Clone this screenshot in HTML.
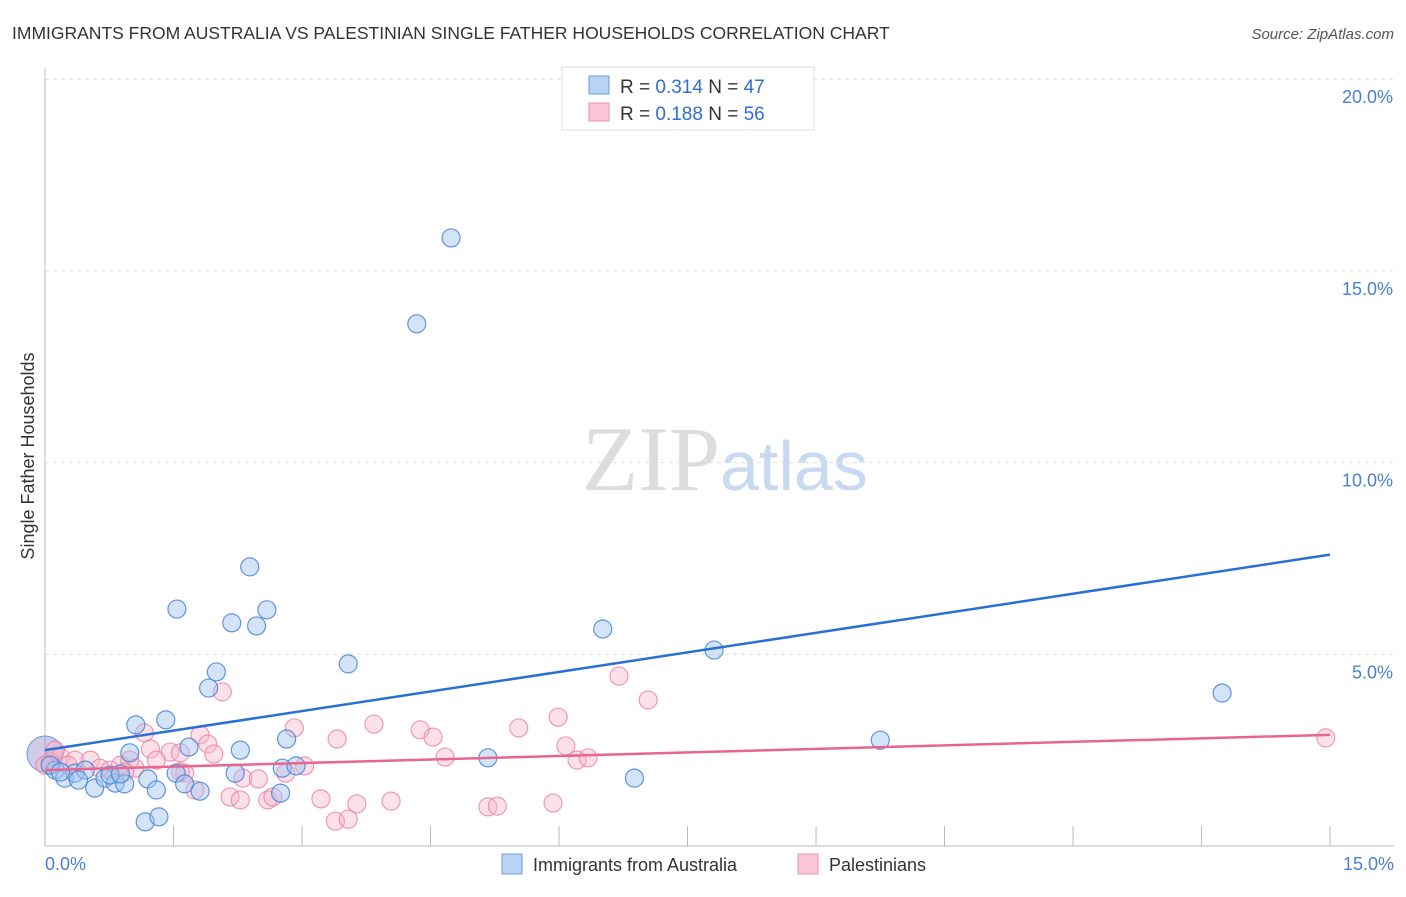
<!DOCTYPE html>
<html><head><meta charset="utf-8"><style>
body{margin:0;background:#fff;font-family:"Liberation Sans",sans-serif}
</style></head><body>
<svg width="1406" height="892" xmlns="http://www.w3.org/2000/svg" font-family="Liberation Sans, sans-serif">
<text x="12" y="39" font-size="17.5" fill="#333">IMMIGRANTS FROM AUSTRALIA VS PALESTINIAN SINGLE FATHER HOUSEHOLDS CORRELATION CHART</text>
<text x="1394" y="39" font-size="15" fill="#555" font-style="italic" text-anchor="end">Source: ZipAtlas.com</text>
<text x="720" y="490" font-size="92" fill="#ddd" font-family="Liberation Serif, serif" text-anchor="end">ZIP</text>
<text x="720" y="490" font-size="70" fill="#c8d9f0">atlas</text>
<g id="grid"></g><g id="axes"></g><g id="pts"></g><g id="lines"></g>
<text x="34" y="456" font-size="18" fill="#333" text-anchor="middle" transform="rotate(-90 34 456)">Single Father Households</text>
<text x="45" y="870" font-size="18" fill="#4a7fd4">0.0%</text>
<text x="1394" y="870" font-size="18" fill="#4a7fd4" text-anchor="end">15.0%</text>
<g>
<rect x="562" y="67" width="252" height="63" fill="#fff" stroke="#ddd"/>
<rect x="589" y="76" width="20" height="18" fill="#b9d3f5" stroke="#6a9de0"/>
<rect x="589" y="103" width="20" height="18" fill="#fbc6d6" stroke="#ee90ac"/>
<text x="620" y="93" font-size="19" fill="#333">R = <tspan fill="#2f6fd0">0.314</tspan>   N = <tspan fill="#2f6fd0">47</tspan></text>
<text x="620" y="120" font-size="19" fill="#333">R = <tspan fill="#2f6fd0">0.188</tspan>   N = <tspan fill="#2f6fd0">56</tspan></text>
</g>
<g>
<rect x="502" y="854" width="20" height="20" fill="#b9d3f5" stroke="#6a9de0"/>
<text x="533" y="871" font-size="18" fill="#333">Immigrants from Australia</text>
<rect x="798" y="854" width="20" height="20" fill="#fbc6d6" stroke="#ee90ac"/>
<text x="829" y="871" font-size="18" fill="#333">Palestinians</text>
</g>
</svg>
<script>
const yTicks=[5,10,15,20];
const xTicks=[0,1.5,3,4.5,6,7.5,9,10.5,12,13.5,15];
const bluePx=[[451,238],[417,324],[250,567],[177,609],[267,610],[232,623],[257,626],[603,629],[714,650],[348,664],[216,672],[209,688],[1222,693],[136,725],[166,720],[287,739],[880,740],[130,753],[189,747],[240,750],[488,758],[55,770],[65,778],[75,773],[85,770],[95,788],[105,778],[115,783],[125,784],[148,779],[156,790],[176,773],[185,784],[200,791],[235,773],[282,768],[296,766],[281,793],[634,778],[145,822],[159,817],[50,765],[60,772],[110,775],[78,780],[120,774]];
const pinkPx=[[1326,738],[619,676],[648,700],[222,692],[558,717],[374,724],[294,728],[519,728],[420,730],[433,737],[337,739],[200,735],[144,733],[208,744],[150,749],[170,752],[180,753],[214,754],[445,757],[566,746],[577,760],[588,758],[60,757],[75,760],[90,760],[100,768],[120,765],[130,760],[156,760],[135,768],[185,773],[305,766],[286,773],[243,778],[258,779],[195,790],[230,797],[240,800],[268,800],[273,797],[321,799],[391,801],[357,804],[553,803],[488,807],[497,806],[335,821],[348,819],[50,762],[55,750],[68,765],[110,770],[125,772],[180,772],[45,765]];
// convert estimated picture readings to data values (% units)
const blueX=bluePx.map(p=>+((p[0]-45)/85.67).toFixed(2)), blueY=bluePx.map(p=>+((846-p[1])/38.34).toFixed(2));
const pinkX=pinkPx.map(p=>+((p[0]-45)/85.67).toFixed(2)), pinkY=pinkPx.map(p=>+((846-p[1])/38.34).toFixed(2));
const blueTrend=[2.5,7.6], pinkTrend=[1.98,2.9];
const big=[0,2.4];
const X=v=>45+v*85.67, Y=v=>846-v*38.34;
const NS='http://www.w3.org/2000/svg';
function mk(parent,tag,attrs){const e=document.createElementNS(NS,tag);for(const k in attrs)e.setAttribute(k,attrs[k]);document.getElementById(parent).appendChild(e);return e;}
yTicks.forEach(t=>{
 const l=mk('grid','line',{x1:45,x2:1394,y1:Y(t),y2:Y(t),stroke:'#ddd','stroke-dasharray':'4,4'});
 
 
 const tx=mk('grid','text',{x:1393,y:Y(t)+24,'font-size':18,fill:'#4a7fd4','text-anchor':'end'});tx.textContent=t.toFixed(1)+'%';
 
 
});
let a=mk('axes','line',{x1:45,x2:45,y1:68,y2:846,stroke:'#bbb'});

a=mk('axes','line',{x1:45,x2:1394,y1:846,y2:846,stroke:'#bbb'});

xTicks.slice(1).forEach(t=>{const l=mk('axes','line',{x1:X(t),x2:X(t),y1:826,y2:846,stroke:'#bbb'});
 
 });
const bc=mk('pts','circle',{cx:X(big[0]),cy:Y(big[1]),r:18,fill:'rgba(150,140,200,0.45)',stroke:'#6a9de0'});

pinkX.forEach((x,i)=>{const c=mk('pts','circle',{cx:X(x),cy:Y(pinkY[i]),r:9,fill:'rgba(248,180,200,0.4)',stroke:'rgba(235,130,165,0.8)','stroke-width':1.2});
 
 });
blueX.forEach((x,i)=>{const c=mk('pts','circle',{cx:X(x),cy:Y(blueY[i]),r:9,fill:'rgba(160,195,240,0.45)',stroke:'rgba(70,130,215,0.85)','stroke-width':1.2});
 
 });
let t=mk('lines','line',{x1:X(0),x2:X(15),y1:Y(blueTrend[0]),y2:Y(blueTrend[1]),stroke:'#2a6fd6','stroke-width':2.5});

t=mk('lines','line',{x1:X(0),x2:X(15),y1:Y(pinkTrend[0]),y2:Y(pinkTrend[1]),stroke:'#e8658f','stroke-width':2.5});

</script>
</body></html>
